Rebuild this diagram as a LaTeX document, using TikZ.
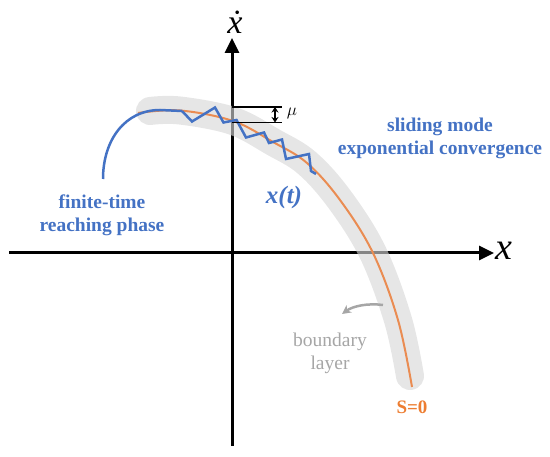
\documentclass[tikz,border=0pt]{standalone}
\usepackage{fontspec}
\setmainfont{Liberation Serif}
\usetikzlibrary{arrows.meta}
\definecolor{myblue}{HTML}{4472C4}
\definecolor{myorange}{HTML}{ED7D31}
\definecolor{lineorange}{RGB}{234,140,82}
\definecolor{bandgray}{RGB}{215,215,215}
\definecolor{txtgray}{HTML}{A6A6A6}
\tikzset{
  axis/.style={line width=3pt, -{Triangle[length=15pt,width=14pt]}},
  band/.style={line width=28pt, line cap=round, draw=bandgray, draw opacity=0.62},
  surface/.style={line width=2pt, draw=lineorange},
  traj/.style={line width=2.5pt, draw=myblue},
  mulines/.style={line width=1.8pt, draw=black},
  bluelbl/.style={text=myblue, font=\fontsize{19.5}{23.5}\selectfont\bfseries, align=center},
  graylbl/.style={text=txtgray, font=\fontsize{19.5}{23}\selectfont, align=center},
}
\begin{document}
\begin{tikzpicture}[x=1pt,y=-1pt]
\useasboundingbox (0,0) rectangle (550,457);
% axes
\coordinate (xL) at (9,253);
\coordinate (xR) at (494,253);
\coordinate (yB) at (232,446);
\coordinate (yT) at (232,38);
\draw[axis] (xL) -- (xR);
\draw[axis] (yB) -- (yT);
\node (xlab) at (504,251) {\fontsize{38}{40}\selectfont\itshape x};
\node (ydlab) at (235,22) {\fontsize{34}{36}\selectfont\itshape \.{x}};
% boundary layer band
\draw[band] plot[smooth, tension=0.6] coordinates {(150,111) (180,110.5) (233,121) (273,142) (307,163) (340,200) (373,253) (398,320) (410,376)};
% sliding surface
\draw[surface] plot[smooth, tension=0.6] coordinates {(138,113) (180,110.5) (233,121) (273,142) (307,163) (340,200) (373,253) (398,320) (412,387)};
% reaching phase trajectory
\coordinate (r0) at (103,179);
\coordinate (r1) at (160,110);
\coordinate (r2) at (182,111);
\draw[traj] (r0) .. controls (103,140) and (125,110) .. (r1) -- (r2);
% chattering
\draw[traj] (r2) -- (192,121.5) -- (215,107.5) -- (223.5,122.5) -- (236.5,120) -- (246,137.5) -- (264,132.5) -- (269,143) -- (282,139.5) -- (286,159) -- (309,154) -- (311,171) -- (316,174);
% mu marker
\coordinate (m1a) at (232,107);
\coordinate (m1b) at (282,107);
\coordinate (m2a) at (232,122.5);
\coordinate (m2b) at (282,122.5);
\coordinate (mu1) at (275,107);
\coordinate (mu2) at (275,122.5);
\draw[mulines] (m1a) -- (m1b);
\draw[mulines] (m2a) -- (m2b);
\draw[line width=1.4pt, {Stealth[length=5.5pt,width=7pt]}-{Stealth[length=5.5pt,width=7pt]}] (mu1) -- (mu2);
\node (mulab) at (292,113) {\fontsize{18}{20}\selectfont$\mu$};
% labels
\node[bluelbl] (slide) at (440,138.5) {sliding mode\\exponential convergence};
\node[bluelbl] (reach) at (102,215.5) {finite-time\\reaching phase};
\node[text=myblue] (xt) at (284,197) {\fontsize{25}{28}\selectfont\bfseries\itshape x(t)};
\node[graylbl] (bl) at (330,353.5) {boundary\\layer};
\node[text=myorange, font=\fontsize{19}{22}\selectfont\bfseries] (s0) at (412,407) {S=0};
% boundary layer arrow
\coordinate (ba0) at (383,305);
\coordinate (ba1) at (342,314);
\draw[line width=2.5pt, draw=txtgray, -{Stealth[length=9pt,width=9pt]}] (ba0) .. controls (368,303) and (353,306) .. (ba1);
\end{tikzpicture}
\end{document}
